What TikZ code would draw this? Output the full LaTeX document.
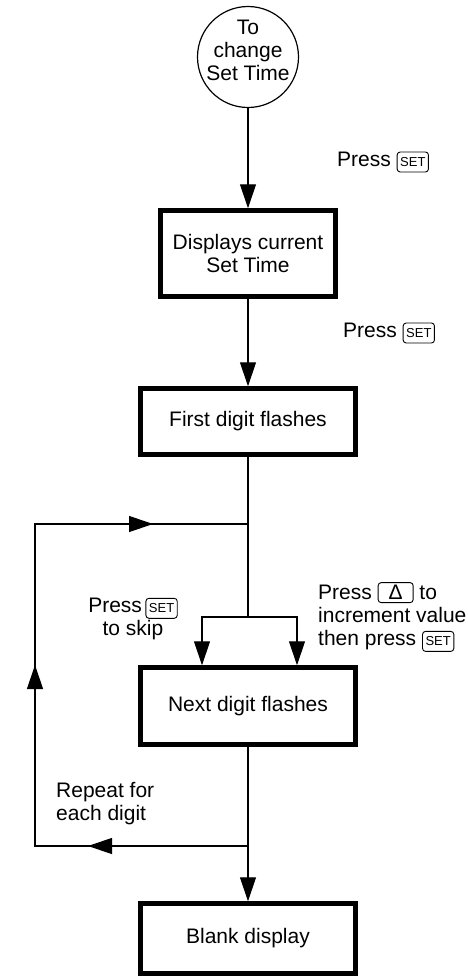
\documentclass[tikz,border=0pt]{standalone}
\usepackage{fontspec}
\setmainfont{Liberation Sans}
\usetikzlibrary{arrows.meta}

\tikzset{
  stepbox/.style={draw,line width=4.5pt,minimum width=215pt,align=center},
  flow/.style={line width=1.2pt},
  keycap/.style={draw,line width=0.9pt,rounded corners=3pt,inner xsep=3pt,inner ysep=0pt,minimum height=20pt},
}
\newcommand{\keySET}{\tikz[baseline=(k.base)]\node[keycap](k){\fontsize{13}{13}\selectfont SET};}
\newcommand{\keyUP}{\tikz[baseline=(k.base)]\node[keycap,minimum width=35pt](k){Δ};}

\begin{document}
\begin{tikzpicture}[x=1pt,y=-1pt,>={Triangle[length=24pt,width=16pt]},font=\fontsize{21}{23}\selectfont]
\useasboundingbox (0,0) rectangle (468,978);
\node[circle,draw,flow,minimum size=101pt,inner sep=0pt,label={[align=center,yshift=7pt]center:To\\change\\Set Time}] (start) at (248,57) {};

\node[stepbox,minimum width=175pt,minimum height=86pt] (disp) at (248,253.5) {Displays current\\Set Time};
\node[stepbox,minimum height=66pt] (first) at (248,421.5) {First digit flashes};
\node[stepbox,minimum height=77pt] (next) at (248,706) {Next digit flashes};
\node[stepbox,minimum height=70pt] (blank) at (248,938.5) {Blank display};

% key labels
\node[anchor=west,inner sep=0pt] (pressA) at (337,162) {Press \keySET};
\node[anchor=west,inner sep=0pt] (pressB) at (343,333) {Press \keySET};
\node[align=center,inner sep=0pt] (skip) at (133,619) {Press\,\keySET\\to skip};
\node[align=left,anchor=west,inner sep=0pt] (incr) at (318,617) {Press \keyUP{} to\\increment value\\then press \keySET};
\node[align=left,anchor=west,inner sep=0pt] (repeat) at (56,803.5) {Repeat for\\each digit};

\coordinate (split) at (248,617);
\coordinate (skipL) at (202,617);
\coordinate (incR) at (297,617);
\coordinate (loopin) at (248,524);
\coordinate (loopout) at (248,846);
\coordinate (cornerB) at (35,846);
\coordinate (cornerT) at (35,524);
\coordinate (tipB) at (88,846);
\coordinate (tipL) at (35,665);
\coordinate (tipT) at (153,524);

\draw[flow,->] (start) -- (disp);
\draw[flow,->] (disp) -- (first);
\draw[flow] (first) -- (split);
\draw[flow,->] (split) -- (skipL) -- (skipL |- next.north);
\draw[flow,->] (split) -- (incR) -- (incR |- next.north);

% repeat loop
\draw[flow] (next) -- (loopout);
\draw[flow,->] (loopout) -- (blank);
\draw[flow] (loopout) -- (cornerB) -- (cornerT) -- (loopin);
\draw[flow,->] (loopout) -- (tipB);
\draw[flow,->] (cornerB) -- (tipL);
\draw[flow,->] (cornerT) -- (tipT);

\end{tikzpicture}
\end{document}
